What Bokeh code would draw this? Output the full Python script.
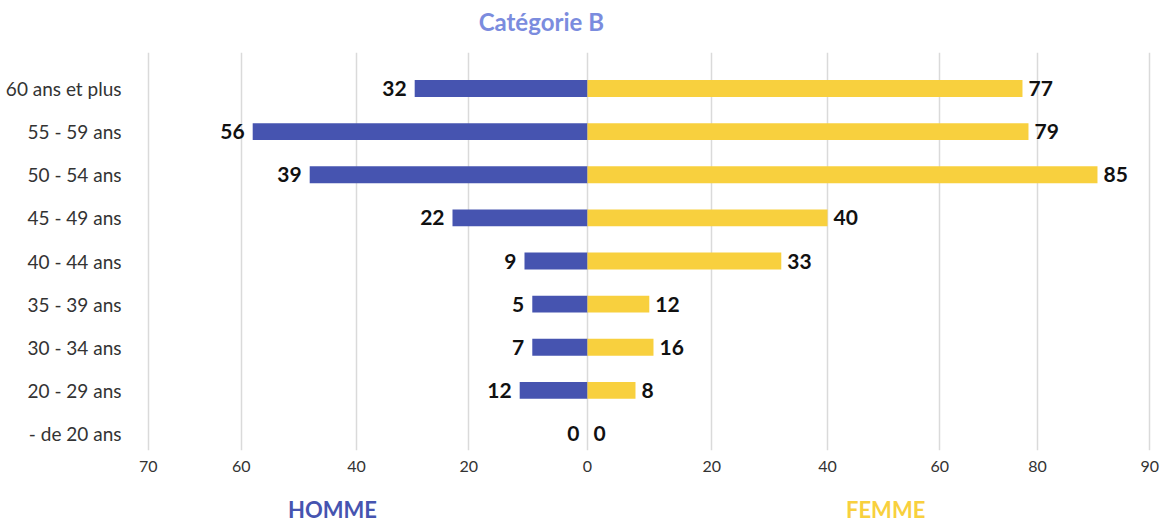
from bokeh.plotting import figure
from bokeh.layouts import column
from bokeh.models import Range1d, FixedTicker, ColumnDataSource
from bokeh.embed import file_html
from bokeh.resources import INLINE
from bokeh.core.properties import value

# ---- data (bottom to top) ----
categories = ["- de 20 ans", "20 - 29 ans", "30 - 34 ans", "35 - 39 ans", "40 - 44 ans",
              "45 - 49 ans", "50 - 54 ans", "55 - 59 ans", "60 ans et plus"]
homme_labels = [0, 12, 7, 5, 9, 22, 39, 56, 32]
femme_labels = [0, 8, 16, 12, 33, 40, 85, 79, 77]
# bar lengths as drawn, read against the axis
homme_bars = [0, 11.3, 9.2, 9.2, 10.5, 22.5, 46.3, 55.8, 28.8]
femme_bars = [0, 8.0, 11.0, 10.3, 32.3, 40.0, 85.0, 73.5, 72.5]
tick_labels = ["70", "60", "40", "20", "0", "20", "40", "60", "80", "90"]
tick_positions = [-73.2, -57.7, -38.5, -19.8, 0, 20.7, 40, 58.7, 75, 93.7]
title_text = "Catégorie B"
side_names = ["HOMME", "FEMME"]

BLUE = "#4654b0"
YELLOW = "#f8d03e"
TITLE_C = "#7b8cde"
FONT = "Lato"
W = 1174
BL, BR = 146, 22

x_range = Range1d(-73.5, 94.17)

ys = list(range(len(categories)))
src = ColumnDataSource(dict(
    y=ys,
    hl=[-v for v in homme_bars],
    fr=femme_bars,
    htxt=[str(v) for v in homme_labels],
    ftxt=[str(v) for v in femme_labels],
))

# ---- header (title) ----
head = figure(width=W, height=45, output_backend="svg", toolbar_location=None,
              x_range=x_range, y_range=Range1d(0, 1), x_axis_type=None, y_axis_type=None,
              min_border_left=BL, min_border_right=BR, min_border_top=0, min_border_bottom=0)
head.outline_line_color = None
head.grid.grid_line_color = None
head.text(x=[-7.7], y=[0.54], text=[title_text], text_align="center", text_baseline="middle",
          text_font=value(FONT), text_font_style="bold", text_font_size="24px",
          text_color=TITLE_C)

# ---- main chart ----
p = figure(width=W, height=440, output_backend="svg", toolbar_location=None,
           x_range=x_range, y_range=Range1d(-0.394, 8.835),
           min_border_left=BL, min_border_top=7, min_border_right=BR, min_border_bottom=35)
p.outline_line_color = None

p.hbar(y="y", left="hl", right=0, height=0.39, fill_color=BLUE, line_color=None, source=src)
p.hbar(y="y", left=0, right="fr", height=0.39, fill_color=YELLOW, line_color=None, source=src)

p.text(x="hl", y="y", text="htxt", x_offset=-8, text_align="right", text_baseline="middle",
       text_font=value(FONT), text_font_style="bold", text_font_size="21px",
       text_color="#111111", source=src)
p.text(x="fr", y="y", text="ftxt", x_offset=6, text_align="left", text_baseline="middle",
       text_font=value(FONT), text_font_style="bold", text_font_size="21px",
       text_color="#111111", source=src)

xt = FixedTicker(ticks=tick_positions)
p.xaxis.ticker = xt
p.xaxis.major_label_overrides = {pos: lab for pos, lab in zip(tick_positions, tick_labels)}
p.xaxis.axis_line_color = None
p.xaxis.major_tick_line_color = None
p.xaxis.minor_tick_line_color = None
p.xaxis.major_label_standoff = 4
p.xaxis.major_label_text_font = FONT
p.xaxis.major_label_text_font_size = "16px"
p.xaxis.major_label_text_color = "#333333"

p.yaxis.ticker = FixedTicker(ticks=ys)
p.yaxis.major_label_overrides = {i: c for i, c in zip(ys, categories)}
p.yaxis.axis_line_color = None
p.yaxis.major_tick_line_color = None
p.yaxis.minor_tick_line_color = None
p.yaxis.major_label_standoff = 19
p.yaxis.major_label_text_font = FONT
p.yaxis.major_label_text_font_size = "19px"
p.yaxis.major_label_text_color = "#333333"

p.ygrid.grid_line_color = None
p.xgrid.ticker = xt
p.xgrid.grid_line_color = "#dadada"
p.xgrid.grid_line_width = 1.5

# ---- footer (side names) ----
foot = figure(width=W, height=38, output_backend="svg", toolbar_location=None,
              x_range=x_range, y_range=Range1d(0, 1), x_axis_type=None, y_axis_type=None,
              min_border_left=BL, min_border_right=BR, min_border_top=0, min_border_bottom=0)
foot.outline_line_color = None
foot.grid.grid_line_color = None
foot.text(x=[-42.5, 49.7], y=[0.38, 0.38], text=side_names, text_align="center",
          text_baseline="middle", text_font=value(FONT), text_font_style="bold",
          text_font_size="22px", text_color=[BLUE, YELLOW])

layout = column(head, p, foot, spacing=0)
open("out.html", "w").write(file_html(layout, INLINE))
